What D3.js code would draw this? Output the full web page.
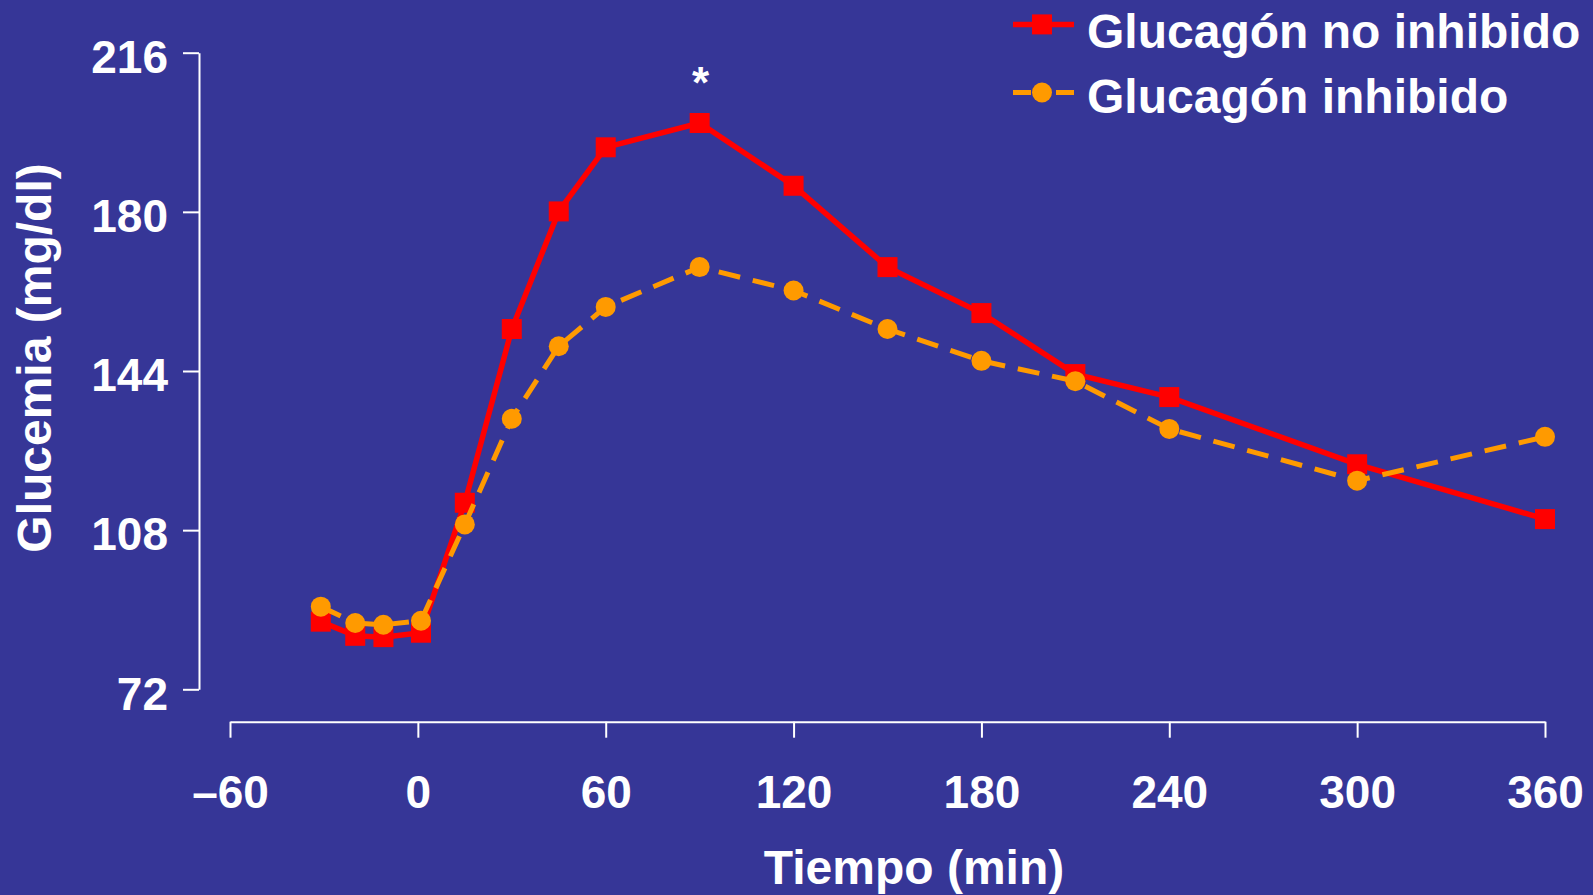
<!DOCTYPE html>
<html>
<head>
<meta charset="utf-8">
<script src="https://cdn.jsdelivr.net/npm/d3@7"></script>
<style>
  html, body { margin: 0; padding: 0; background: #363697; }
  svg { display: block; }
  text { font-family: "Liberation Sans", Arial, Helvetica, sans-serif; font-weight: bold; fill: #ffffff; }
</style>
</head>
<body>
<svg id="chart" width="1593" height="895"></svg>
<script>
// Time after meal (min)
const times = [-31, -20, -11, 1, 15, 30, 45, 60, 90, 120, 150, 180, 210, 240, 300, 360];
// Blood glucose (mg/dl) per group
const glucagonNoInhibido = [87.3, 84.1, 83.8, 84.8, 114.2, 153.5, 180.1, 194.6, 200.1, 185.9, 167.5, 157.1, 143.3, 138.1, 122.9, 110.5];
const glucagonInhibido   = [90.7, 87.0, 86.6, 87.5, 109.3, 133.2, 149.6, 158.5, 167.5, 162.2, 153.5, 146.3, 141.7, 130.9, 119.2, 129.1];
const xTicks = [-60, 0, 60, 120, 180, 240, 300, 360];
const yTicks = [72, 108, 144, 180, 216];
const seriesNames = ["Glucagón no inhibido", "Glucagón inhibido"];
const significantTime = 90;

const RED = "#ff0000", ORANGE = "#ff9a00";

const svg = d3.select("#chart");
svg.append("rect").attr("width", 1593).attr("height", 895).attr("fill", "#363697");

const x = d3.scaleLinear().domain([-60, 360]).range([230, 1545]);
const y = d3.scaleLinear().domain([72, 216]).range([689.3, 52.7]);

// Y axis
const yAxis = svg.append("g")
  .attr("transform", "translate(199,0)")
  .call(d3.axisLeft(y).tickValues(yTicks).tickSize(16).tickSizeOuter(0).tickPadding(15));
// X axis
const xAxis = svg.append("g")
  .attr("transform", "translate(0,721.7)")
  .call(d3.axisBottom(x).tickValues(xTicks).tickSize(16).tickSizeOuter(0).tickPadding(38)
    .tickFormat(d => d < 0 ? "–" + Math.abs(d) : String(d)));

[yAxis, xAxis].forEach(g => {
  g.select(".domain").attr("stroke", "#ffffff").attr("stroke-width", 2);
  g.selectAll(".tick line").attr("stroke", "#ffffff").attr("stroke-width", 2);
  g.selectAll(".tick text").attr("fill", "#ffffff")
    .style("font-family", '"Liberation Sans", Arial, sans-serif')
    .style("font-weight", "bold").style("font-size", "46px");
});
yAxis.selectAll(".tick text").attr("dy", "0.43em");

// Axis titles
svg.append("text")
  .attr("x", 914).attr("y", 884)
  .attr("text-anchor", "middle")
  .style("font-size", "48px")
  .text("Tiempo (min)");
svg.append("text")
  .attr("transform", "translate(51,358) rotate(-90)")
  .attr("text-anchor", "middle")
  .style("font-size", "48px")
  .text("Glucemia (mg/dl)");

const line = d3.line().x(d => x(d[0])).y(d => y(d[1]));
const redPts = times.map((t, i) => [t, glucagonNoInhibido[i]]);
const orangePts = times.map((t, i) => [t, glucagonInhibido[i]]);

// Non-inhibited glucagon: solid red line with square markers
svg.append("path").datum(redPts)
  .attr("d", line).attr("fill", "none")
  .attr("stroke", RED).attr("stroke-width", 5.5).attr("stroke-linejoin", "miter");
svg.append("g").selectAll("rect").data(redPts).join("rect")
  .attr("x", d => x(d[0]) - 10).attr("y", d => y(d[1]) - 10)
  .attr("width", 20).attr("height", 20).attr("fill", RED);

// Inhibited glucagon: dashed orange line with circle markers
svg.append("path").datum(orangePts)
  .attr("d", line).attr("fill", "none")
  .attr("stroke", ORANGE).attr("stroke-width", 5).attr("stroke-dasharray", "22,13");
svg.append("g").selectAll("circle").data(orangePts).join("circle")
  .attr("cx", d => x(d[0])).attr("cy", d => y(d[1]))
  .attr("r", 10).attr("fill", ORANGE);

// Significance marker at the peak
const peakIdx = times.indexOf(significantTime);
svg.append("text")
  .attr("x", x(significantTime) + 1)
  .attr("y", y(glucagonNoInhibido[peakIdx]) - 25)
  .attr("text-anchor", "middle")
  .style("font-size", "44px")
  .text("*");

// Legend
const legend = svg.append("g");
const lx0 = 1013, lx1 = 1074, lxm = 1042, textX = 1087;
const rowY = [24.4, 92.5];
const textY = [47.5, 112.5];
legend.append("line").attr("x1", lx0).attr("x2", lx1).attr("y1", rowY[0]).attr("y2", rowY[0])
  .attr("stroke", RED).attr("stroke-width", 5.5);
legend.append("rect").attr("x", lxm - 10).attr("y", rowY[0] - 10).attr("width", 20).attr("height", 20).attr("fill", RED);
legend.append("line").attr("x1", lx0).attr("x2", lx1).attr("y1", rowY[1]).attr("y2", rowY[1])
  .attr("stroke", ORANGE).attr("stroke-width", 5).attr("stroke-dasharray", "18,25,18");
legend.append("circle").attr("cx", lxm).attr("cy", rowY[1]).attr("r", 10).attr("fill", ORANGE);
seriesNames.forEach((name, i) => {
  legend.append("text").attr("x", textX).attr("y", textY[i])
    .style("font-size", "48px").text(name);
});
</script>
</body>
</html>
